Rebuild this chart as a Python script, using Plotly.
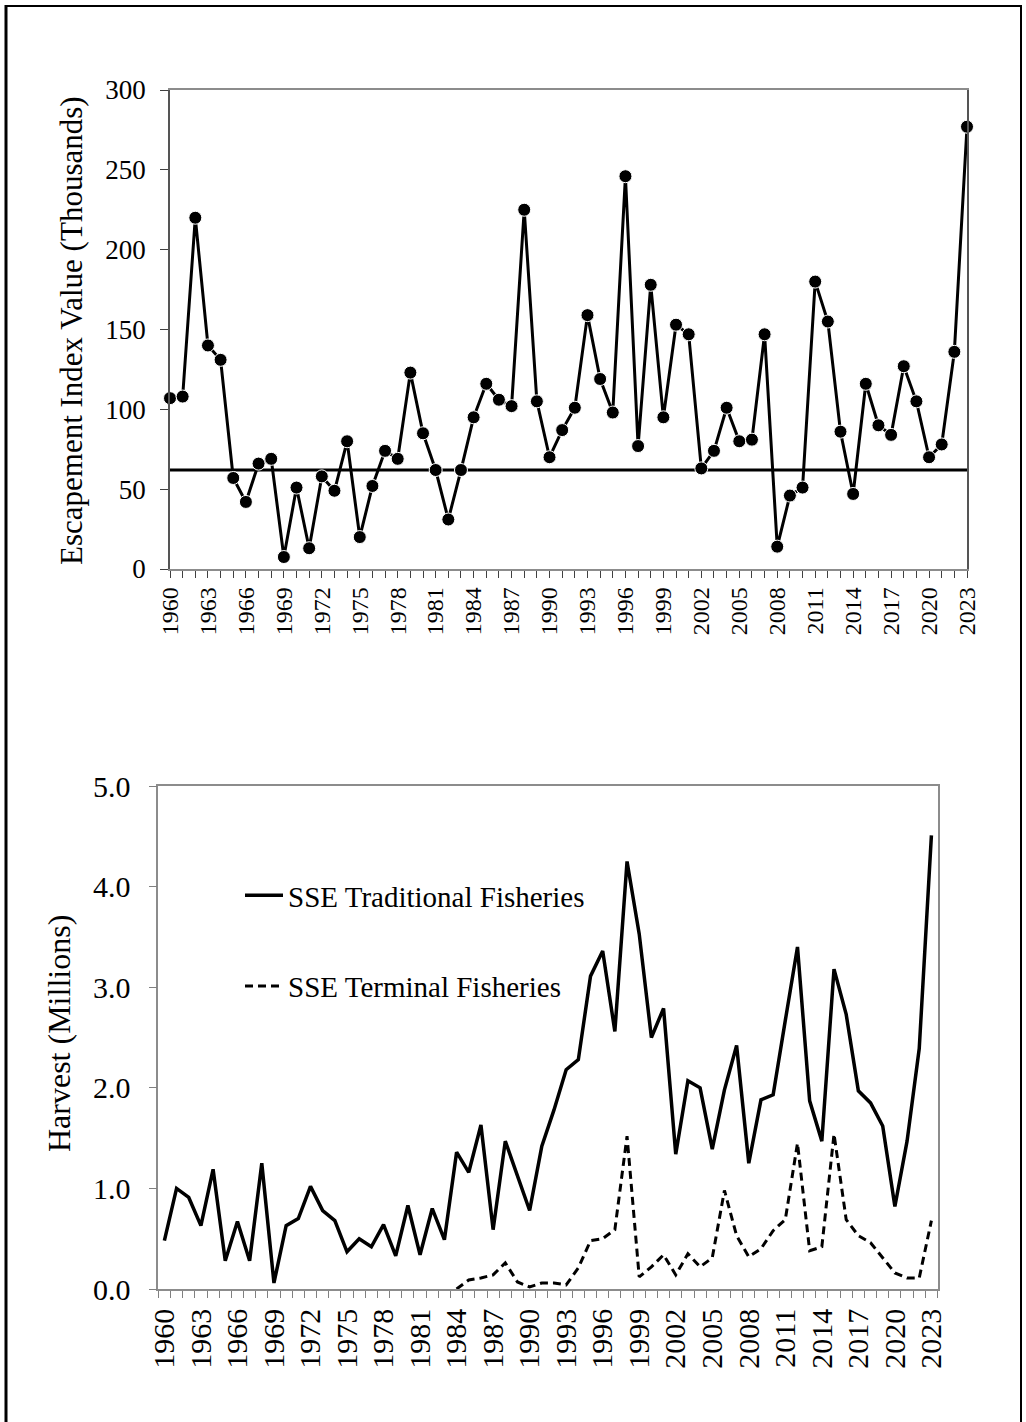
import plotly.graph_objects as go

# ---------------- data ----------------
years = list(range(1960, 2024))

escapement = [107, 108, 220, 140, 131, 57, 42, 66, 69, 7.5,
              51, 13, 58, 49, 80, 20, 52, 74, 69, 123,
              85, 62, 31, 62, 95, 116, 106, 102, 225, 105,
              70, 87, 101, 159, 119, 98, 246, 77, 178, 95,
              153, 147, 63, 74, 101, 80, 81, 147, 14, 46,
              51, 180, 155, 86, 47, 116, 90, 84, 127, 105,
              70, 78, 136, 277]

escapement_goal = 62

traditional = [0.48, 1.00, 0.91, 0.63, 1.19, 0.28, 0.67, 0.28, 1.25, 0.06,
               0.63, 0.70, 1.02, 0.78, 0.68, 0.37, 0.50, 0.42, 0.64, 0.33,
               0.83, 0.34, 0.80, 0.49, 1.36, 1.16, 1.63, 0.59, 1.47, 1.13,
               0.78, 1.42, 1.78, 2.18, 2.28, 3.11, 3.36, 2.56, 4.25, 3.53,
               2.50, 2.79, 1.34, 2.07, 2.00, 1.39, 1.98, 2.42, 1.25, 1.88,
               1.93, 2.67, 3.40, 1.87, 1.47, 3.18, 2.73, 1.97, 1.85, 1.62,
               0.82, 1.47, 2.39, 4.51]

terminal = [None] * 24 + [0.00, 0.09, 0.11, 0.14, 0.26, 0.07,
            0.02, 0.06, 0.06, 0.04, 0.21, 0.48, 0.50, 0.59, 1.52, 0.12,
            0.22, 0.34, 0.14, 0.35, 0.22, 0.31, 0.98, 0.53, 0.32, 0.40,
            0.58, 0.69, 1.45, 0.38, 0.42, 1.54, 0.69, 0.53, 0.46, 0.31,
            0.16, 0.11, 0.11, 0.68]

top_yticks = [0, 50, 100, 150, 200, 250, 300]
bot_yticks = [0, 1, 2, 3, 4, 5]
label_years = list(range(1960, 2024, 3))

top_title = "Escapement Index Value (Thousands)"
bot_title = "Harvest (Millions)"

# ---------------- layout helpers ----------------
W, H = 1026, 1422
FONT = "Liberation Serif, Times New Roman, serif"
AX = "#8c8c8c"


def px_x(x):
    return x / W


def px_y(y):
    return 1 - y / H


fig = go.Figure()

# top chart
fig.add_trace(go.Scatter(
    x=[years[0], years[-1]], y=[escapement_goal, escapement_goal],
    mode="lines", line=dict(color="black", width=3),
    showlegend=False, xaxis="x", yaxis="y", hoverinfo="skip"))
fig.add_trace(go.Scatter(
    x=years, y=escapement, mode="lines+markers",
    line=dict(color="black", width=3),
    marker=dict(color="black", size=13, line=dict(color="white", width=1)),
    cliponaxis=False, showlegend=False, xaxis="x", yaxis="y"))

# bottom chart
fig.add_trace(go.Scatter(
    x=years, y=traditional, mode="lines", name="SSE Traditional Fisheries",
    line=dict(color="black", width=3.5), legendgroup="a",
    xaxis="x2", yaxis="y2"))
fig.add_trace(go.Scatter(
    x=years, y=terminal, mode="lines", name="SSE Terminal Fisheries",
    line=dict(color="black", width=3, dash="8px,5px"), legendgroup="b",
    connectgaps=False, xaxis="x2", yaxis="y2"))

top_l, top_r, top_t, top_b = 170, 967, 90, 569
bot_l, bot_r, bot_t, bot_b = 158.3, 937.5, 786, 1289

fig.update_layout(
    width=W, height=H,
    margin=dict(l=0, r=0, t=0, b=0, pad=0, autoexpand=False),
    paper_bgcolor="white", plot_bgcolor="white",
    font=dict(family=FONT, color="black", size=25),
    xaxis=dict(
        domain=[px_x(top_l), px_x(top_r)], anchor="y",
        range=[1960, 2023], tickmode="array", tickvals=label_years,
        ticktext=[str(v) for v in label_years], tickangle=-90,
        ticks="outside", ticklen=7, tickcolor="#404040", tickwidth=1,
        minor=dict(dtick=1, tick0=1960, ticks="outside", ticklen=7,
                   tickcolor="#404040", tickwidth=1, showgrid=False),
        showgrid=False, zeroline=False, showline=True, mirror=True,
        linecolor=AX, linewidth=1.5, automargin=False,
        tickfont=dict(family=FONT, size=24)),
    yaxis=dict(
        domain=[px_y(top_b), px_y(top_t)], anchor="x",
        range=[0, 300], tickvals=top_yticks,
        ticks="outside", ticklen=8, tickcolor="#404040",
        ticklabelstandoff=9,
        showgrid=False, zeroline=False, showline=True, mirror=True,
        linecolor="#555555", linewidth=1.5, automargin=False,
        tickfont=dict(family=FONT, size=27)),
    xaxis2=dict(
        domain=[px_x(bot_l), px_x(bot_r)], anchor="y2",
        range=[1959.5, 2023.5], tickmode="array", tickvals=label_years,
        ticktext=[str(v) for v in label_years], tickangle=-90,
        ticks="outside", ticklen=6, tickcolor="rgba(0,0,0,0)",
        minor=dict(dtick=1, tick0=1959.5, ticks="outside", ticklen=7,
                   tickcolor="#808080", tickwidth=1, showgrid=False),
        showgrid=False, zeroline=False, showline=True, mirror=True,
        linecolor=AX, linewidth=1.5, automargin=False,
        tickfont=dict(family=FONT, size=30)),
    yaxis2=dict(
        domain=[px_y(bot_b), px_y(bot_t)], anchor="x2",
        range=[0, 5], tickvals=bot_yticks, tickformat=".1f",
        ticks="outside", ticklen=8, tickcolor="#808080",
        ticklabelstandoff=12,
        showgrid=False, zeroline=False, showline=True, mirror=True,
        linecolor=AX, linewidth=1.5, automargin=False,
        tickfont=dict(family=FONT, size=30)),
    legend=dict(
        x=px_x(240), y=px_y(870), xanchor="left", yanchor="top",
        bgcolor="rgba(0,0,0,0)", borderwidth=0,
        font=dict(family=FONT, size=29), itemwidth=38,
        tracegroupgap=50, traceorder="grouped"),
    showlegend=True,
    annotations=[
        dict(text=top_title, textangle=-90, xref="paper", yref="paper",
             x=px_x(72), y=px_y(331), xanchor="center", yanchor="middle",
             showarrow=False, font=dict(family=FONT, size=31)),
        dict(text=bot_title, textangle=-90, xref="paper", yref="paper",
             x=px_x(59), y=px_y(1034), xanchor="center", yanchor="middle",
             showarrow=False, font=dict(family=FONT, size=32)),
    ],
    shapes=[
        dict(type="line", xref="paper", yref="paper",
             x0=px_x(6), x1=px_x(6), y0=px_y(5), y1=0,
             line=dict(color="black", width=3)),
        dict(type="line", xref="paper", yref="paper",
             x0=px_x(5), x1=px_x(1021), y0=px_y(6), y1=px_y(6),
             line=dict(color="black", width=2)),
        dict(type="line", xref="paper", yref="paper",
             x0=px_x(1021), x1=px_x(1021), y0=px_y(5), y1=0,
             line=dict(color="black", width=2)),
    ],
)

fig.write_html("out.html", post_script="document.body.style.margin='0';",
               config={"displayModeBar": False})
